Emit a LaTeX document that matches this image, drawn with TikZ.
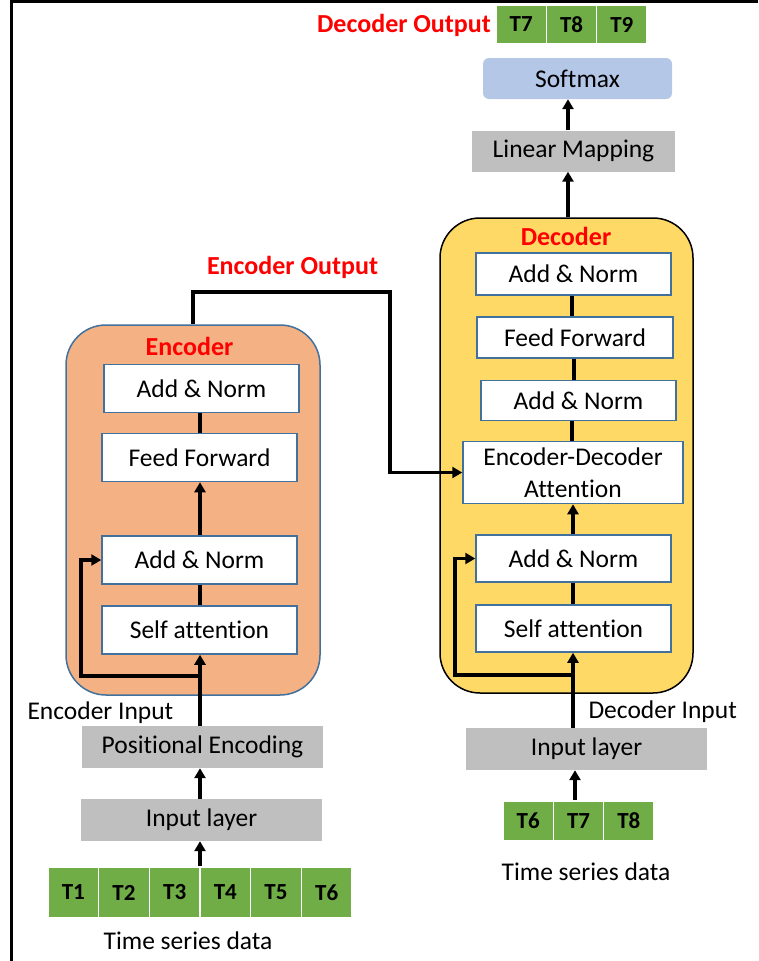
\documentclass[tikz,border=0pt]{standalone}
\usepackage{fontspec}
\setmainfont{Carlito}[Ligatures=NoCommon, Numbers=Lining]
\usetikzlibrary{arrows.meta}
\definecolor{tgreen}{HTML}{70AD47}
\definecolor{tgray}{HTML}{BFBFBF}
\definecolor{tblue}{HTML}{B4C7E7}
\definecolor{encfill}{HTML}{F4B183}
\definecolor{decfill}{HTML}{FFD966}
\definecolor{bordblue}{HTML}{41719C}
\definecolor{tred}{HTML}{FF0000}
\tikzset{
  txt/.style={font=\fontsize{25.5}{30}\selectfont},
  wbox/.style={txt, draw=bordblue, line width=1.5pt, fill=white, inner sep=0pt},
  gbox/.style={txt, fill=tgray, inner sep=0pt},
  cell/.style={font=\fontsize{23}{27}\bfseries\selectfont, fill=tgreen, draw=white, line width=1.5pt, inner sep=0pt},
  rtitle/.style={font=\fontsize{26}{30}\bfseries\selectfont, text=tred},
  conn/.style={line width=3.5pt},
  arr/.style={line width=3.5pt, -{Triangle[length=10pt,width=11pt]}},
}
\begin{document}
\begin{tikzpicture}[x=1pt,y=-1pt]
\useasboundingbox (0,0) rectangle (758,961);
% outer frame
\draw[line width=3pt] (11,961) -- (11,1.5) -- (758,1.5);

% ---------- Encoder ----------
\node[draw=bordblue, line width=1.5pt, fill=encfill, rounded corners=40pt, minimum width=254, minimum height=370, inner sep=0pt] (enc) at (193,510) {};
\node[rtitle] (enct) at (189.5,346) {Encoder};
\node[wbox, minimum width=195, minimum height=48] (ea1) at (201.5,388.5) {Add \& Norm};
\node[wbox, minimum width=195, minimum height=48] (eff) at (199.5,457.5) {Feed Forward};
\node[wbox, minimum width=195, minimum height=48] (ea2) at (199.5,560) {Add \& Norm};
\node[wbox, minimum width=195, minimum height=48] (esa) at (199.5,630) {Self attention};

\node[txt, anchor=west] (ein) at (24,713) {Encoder Input};
\node[gbox, minimum width=241, minimum height=42] (pe) at (202.5,747) {Positional Encoding};
\node[gbox, minimum width=241, minimum height=42] (eil) at (201.5,820) {Input layer};
\foreach \i [count=\k from 0] in {1,...,6}
  \node[cell, minimum width=50.67, minimum height=51] (t\i) at (73.3+50.67*\k,892.5) {T\i};
\node[txt] (etsd) at (188,941) {Time series data};

\coordinate (ex) at (200,0);
\draw[arr] (ex |- t3.north) -- (ex |- eil.south);
\draw[arr] (ex |- eil.north) -- (ex |- pe.south);
\draw[arr] (ex |- pe.north) -- (ex |- esa.south);
\draw[conn] (ex |- esa.north) -- (ex |- ea2.south);
\draw[arr] (ex |- ea2.north) -- (ex |- eff.south);
\draw[conn] (ex |- eff.north) -- (ex |- ea1.south);
\coordinate (er) at (200,676);
\coordinate (erl) at (81,676);
\draw[arr] (er) -- (erl) |- (ea2.west);

% ---------- Decoder ----------
\node[draw=black, line width=1.5pt, fill=decfill, rounded corners=40pt, minimum width=253, minimum height=475, inner sep=0pt] (dec) at (566.5,455.5) {};
\node[rtitle] (dect) at (566,236) {Decoder};
\node[wbox, minimum width=195, minimum height=42] (da1) at (573.5,274) {Add \& Norm};
\node[wbox, minimum width=196, minimum height=41] (dff) at (575,337.5) {Feed Forward};
\node[wbox, minimum width=195, minimum height=40] (da2) at (578.5,400.5) {Add \& Norm};
\node[wbox, minimum width=220, minimum height=62, align=center, font=\fontsize{25.5}{32}\selectfont] (eda) at (573,472.5) {Encoder-Decoder\\Attention};
\node[wbox, minimum width=195, minimum height=47] (da3) at (573.5,558.5) {Add \& Norm};
\node[wbox, minimum width=195, minimum height=47] (dsa) at (573.5,628.5) {Self attention};

\node[txt, anchor=west] (din) at (585,712) {Decoder Input};
\node[gbox, minimum width=241, minimum height=42] (dil) at (586.5,749) {Input layer};
\foreach \i [count=\k from 0] in {6,7,8}
  \node[cell, minimum width=50.33, minimum height=40] (d\i) at (528.2+50.33*\k,821) {T\i};
\node[txt] (dtsd) at (586,872) {Time series data};

\coordinate (dx) at (573,0);
\coordinate (dx1) at (575,0);
\coordinate (dx2) at (572,0);
\coordinate (dx3) at (574,0);
\draw[arr] (dx1 |- d7.north) -- (dx1 |- dil.south);
\draw[arr] (dx |- dil.north) -- (dx |- dsa.south);
\draw[conn] (dx |- dsa.north) -- (dx |- da3.south);
\draw[arr] (dx |- da3.north) -- (dx |- eda.south);
\draw[conn] (dx2 |- eda.north) -- (dx2 |- da2.south);
\draw[conn] (dx3 |- da2.north) -- (dx3 |- dff.south);
\draw[conn] (dx2 |- dff.north) -- (dx2 |- da1.south);
\coordinate (dr) at (573,675);
\coordinate (drl) at (455,675);
\draw[arr] (dr) -- (drl) |- (da3.west);

% ---------- Encoder output ----------
\node[rtitle] (eot) at (292.5,267) {Encoder Output};
\coordinate (eo1) at (193,292);
\coordinate (eo2) at (390,292);
\draw[arr] (enc.north -| eo1) -- (eo1) -- (eo2) |- (eda.west);

% ---------- Top ----------
\node[gbox, minimum width=203, minimum height=41] (lm) at (573.5,151) {Linear Mapping};
\node[txt, fill=tblue, rounded corners=6pt, minimum width=189, minimum height=41, inner sep=0pt] (sm) at (577.5,78.5) {Softmax};
\coordinate (tx) at (568,0);
\draw[arr] (tx |- dec.north) -- (tx |- lm.south);
\draw[arr] (tx |- lm.north) -- (tx |- sm.south);
\node[rtitle] (dot) at (404,25) {Decoder Output};
\foreach \i [count=\k from 0] in {7,8,9}
  \node[cell, minimum width=50.33, minimum height=39] (o\i) at (521.2+50.33*\k,24.5) {T\i};
\end{tikzpicture}
\end{document}
